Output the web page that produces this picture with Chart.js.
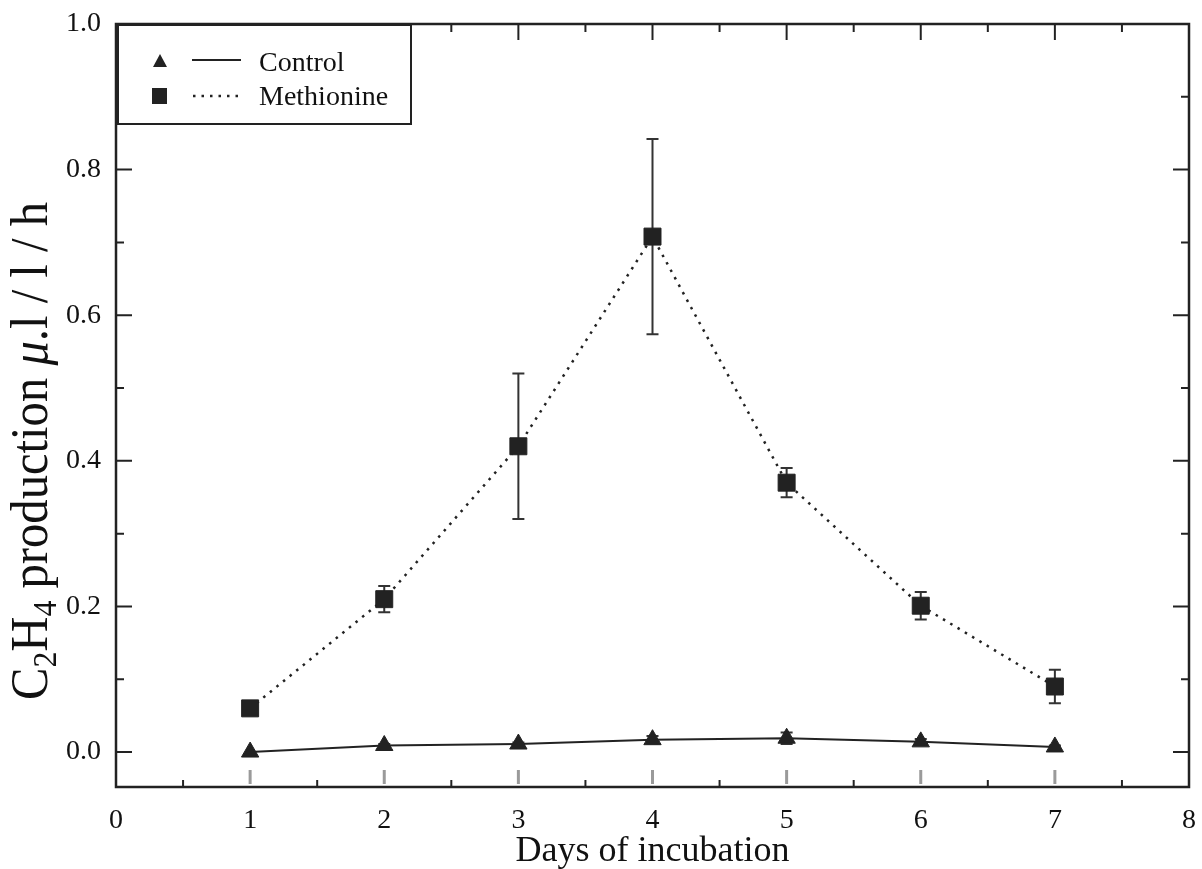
<!DOCTYPE html>
<html>
<head>
<meta charset="utf-8">
<script src="https://cdn.jsdelivr.net/npm/chart.js@4.4.0/dist/chart.umd.min.js"></script>
<style>
  html, body { margin: 0; background: #fff; }
</style>
</head>
<body>
<canvas id="myChart" width="1202" height="869"></canvas>
<script>
// values
const days = [1, 2, 3, 4, 5, 6, 7];
const methionine = [0.06, 0.21, 0.42, 0.708, 0.37, 0.201, 0.09];
const methionineErr = [0, 0.018, 0.1, 0.134, 0.02, 0.019, 0.023];
const control = [0.0, 0.009, 0.011, 0.017, 0.019, 0.014, 0.007];
const controlErr = [0, 0.002, 0.002, 0.005, 0.008, 0.004, 0.002];
const xTicks = [0, 1, 2, 3, 4, 5, 6, 7, 8];
const yTicks = [0, 0.2, 0.4, 0.6, 0.8, 1.0];

const serif = "'Liberation Serif', 'Times New Roman', serif";
const ink = "#222";

const toPoints = (ys) => days.map((d, i) => ({ x: d, y: ys[i] }));

// vertical error bars with caps
const errorBars = {
  id: "errorBars",
  beforeDatasetsDraw(chart) {
    const { ctx, scales } = chart;
    const errs = [controlErr, methionineErr];
    ctx.save();
    ctx.strokeStyle = "#333";
    ctx.lineWidth = 2;
    chart.data.datasets.forEach((ds, k) => {
      ds.data.forEach((p, i) => {
        const e = errs[k][i];
        if (!e) return;
        const x = scales.x.getPixelForValue(p.x);
        const y1 = scales.y.getPixelForValue(p.y + e);
        const y2 = scales.y.getPixelForValue(p.y - e);
        ctx.beginPath();
        ctx.moveTo(x, y1);
        ctx.lineTo(x, y2);
        ctx.moveTo(x - 6, y1);
        ctx.lineTo(x + 6, y1);
        ctx.moveTo(x - 6, y2);
        ctx.lineTo(x + 6, y2);
        ctx.stroke();
      });
    });
    ctx.restore();
  },
};

// frame, inward ticks, titles and the boxed legend
const decor = {
  id: "decor",
  afterDraw(chart) {
    const { ctx, chartArea: a, scales } = chart;
    const xs = scales.x, ys = scales.y;
    ctx.save();

    // x ticks
    for (let v = 0.5; v < 8; v += 0.5) {
      const x = xs.getPixelForValue(v);
      const major = Number.isInteger(v);
      ctx.lineWidth = 2;
      ctx.strokeStyle = ink;
      ctx.beginPath();
      ctx.moveTo(x, a.top);
      ctx.lineTo(x, a.top + (major ? 16 : 8));
      if (!major) {
        ctx.moveTo(x, a.bottom);
        ctx.lineTo(x, a.bottom - 7);
      }
      ctx.stroke();
      if (major) {
        ctx.strokeStyle = "#9a9a9a";
        ctx.lineWidth = 3;
        ctx.beginPath();
        ctx.moveTo(x, a.bottom - 3);
        ctx.lineTo(x, a.bottom - 17);
        ctx.stroke();
      }
    }

    // y ticks
    ctx.strokeStyle = ink;
    ctx.lineWidth = 2;
    for (let i = 0; i <= 9; i++) {
      const v = i / 10;
      const y = ys.getPixelForValue(v);
      const len = i % 2 === 0 ? 16 : 8;
      ctx.beginPath();
      ctx.moveTo(a.left, y);
      ctx.lineTo(a.left + len, y);
      ctx.moveTo(a.right, y);
      ctx.lineTo(a.right - len, y);
      ctx.stroke();
    }

    // frame
    ctx.lineWidth = 2.5;
    ctx.strokeRect(a.left, a.top, a.right - a.left, a.bottom - a.top);

    // x title
    ctx.fillStyle = "#111";
    ctx.font = "36px " + serif;
    ctx.textAlign = "center";
    ctx.textBaseline = "alphabetic";
    ctx.fillText("Days of incubation", (a.left + a.right) / 2, 861);

    // y title with subscripts, italic mu
    const big = "52px " + serif, small = "34px " + serif, ital = "italic 52px " + serif;
    const parts = [
      ["C", big, 0], ["2", small, 9], ["H", big, 0], ["4", small, 9],
      [" production ", big, 0], ["\u03bc", ital, 0], [".l / l / h", big, 0],
    ];
    let w = 0;
    parts.forEach((p) => { ctx.font = p[1]; w += ctx.measureText(p[0]).width; });
    ctx.translate(47, 451);
    ctx.rotate(-Math.PI / 2);
    ctx.scale(498 / w, 1);
    ctx.textAlign = "left";
    let cx = -w / 2;
    parts.forEach((p) => {
      ctx.font = p[1];
      ctx.fillText(p[0], cx, p[2]);
      cx += ctx.measureText(p[0]).width;
    });
    ctx.setTransform(1, 0, 0, 1, 0, 0);

    // legend
    ctx.fillStyle = "#fff";
    ctx.fillRect(118, 25, 293, 99);
    ctx.strokeStyle = ink;
    ctx.lineWidth = 2;
    ctx.strokeRect(118, 25, 293, 99);
    ctx.fillStyle = ink;
    ctx.beginPath();
    ctx.moveTo(160, 54);
    ctx.lineTo(167, 67);
    ctx.lineTo(153, 67);
    ctx.closePath();
    ctx.fill();
    ctx.fillRect(152, 88, 15, 16);
    ctx.beginPath();
    ctx.moveTo(192, 60);
    ctx.lineTo(241, 60);
    ctx.stroke();
    ctx.setLineDash([2.5, 6]);
    ctx.lineWidth = 2.5;
    ctx.beginPath();
    ctx.moveTo(193, 96);
    ctx.lineTo(241, 96);
    ctx.stroke();
    ctx.setLineDash([]);
    ctx.fillStyle = "#111";
    ctx.font = "28px " + serif;
    ctx.textAlign = "left";
    ctx.fillText("Control", 259, 71);
    ctx.fillText("Methionine", 259, 105);

    ctx.restore();
  },
};

const data = {
  datasets: [
    {
      label: "Control",
      data: toPoints(control),
      borderColor: ink,
      borderWidth: 2,
      pointStyle: "triangle",
      pointRadius: 10,
      pointBackgroundColor: ink,
      pointBorderColor: ink,
      pointBorderWidth: 1,
    },
    {
      label: "Methionine",
      data: toPoints(methionine),
      borderColor: ink,
      borderWidth: 2.5,
      borderDash: [2.5, 6],
      pointStyle: "rect",
      pointRadius: 12,
      pointBackgroundColor: ink,
      pointBorderColor: ink,
      pointBorderWidth: 1,
    },
  ],
};

const config = {
  type: "line",
  data,
  options: {
    responsive: false,
    animation: false,
    layout: { padding: { left: 0, top: 24, right: 13, bottom: 0 } },
    plugins: { legend: { display: false }, tooltip: { enabled: false } },
    scales: {
      x: {
        type: "linear",
        min: 0,
        max: 8,
        afterBuildTicks: (s) => { s.ticks = xTicks.map((v) => ({ value: v })); },
        afterFit: (s) => { s.height = 82; s.paddingLeft = 0; s.paddingRight = 0; },
        grid: { display: false, drawTicks: false },
        border: { display: false },
        ticks: {
          padding: 17,
          color: "#111",
          font: { family: serif, size: 28 },
          callback: (v) => String(v),
        },
      },
      y: {
        min: -0.048,
        max: 1.0,
        afterBuildTicks: (s) => { s.ticks = yTicks.map((v) => ({ value: v })); },
        afterFit: (s) => { s.width = 116; s.paddingTop = 0; s.paddingBottom = 0; },
        grid: { display: false, drawTicks: false },
        border: { display: false },
        ticks: {
          padding: 15,
          color: "#111",
          font: { family: serif, size: 28 },
          callback: (v) => v.toFixed(1),
        },
      },
    },
  },
  plugins: [errorBars, decor],
};

const myChart = new Chart(document.querySelector("#myChart").getContext("2d"), config);
</script>
</body>
</html>
